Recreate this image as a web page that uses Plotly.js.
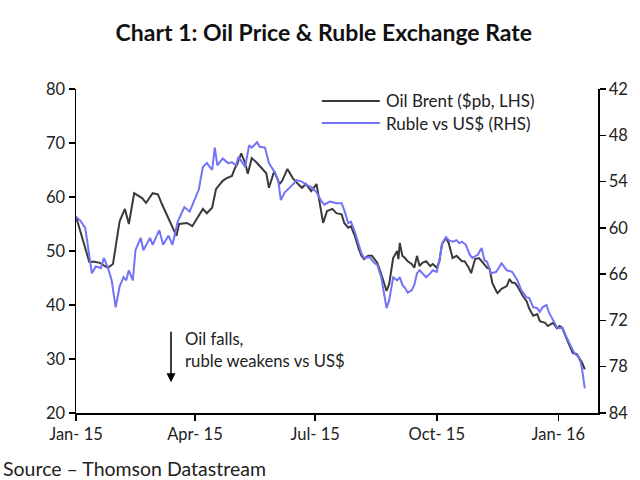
<!DOCTYPE html>
<html>
<head>
<meta charset="utf-8">
<script src="https://cdn.plot.ly/plotly-3.0.1.min.js"></script>
<style>html,body{margin:0;padding:0;background:#fff;}#chart{width:640px;height:480px;}</style>
</head>
<body>
<div id="chart"></div>
<script>
const oilDates = ["2015-01-01","2015-01-04","2015-01-08","2015-01-11","2015-01-15","2015-01-19","2015-01-25","2015-01-29","2015-02-03","2015-02-07","2015-02-10","2015-02-14","2015-02-20","2015-02-23","2015-02-28","2015-03-04","2015-03-07","2015-03-11","2015-03-14","2015-03-18","2015-03-20","2015-03-26","2015-03-30","2015-04-04","2015-04-07","2015-04-10","2015-04-14","2015-04-17","2015-04-20","2015-04-22","2015-04-25","2015-04-29","2015-05-01","2015-05-03","2015-05-06","2015-05-09","2015-05-11","2015-05-14","2015-05-18","2015-05-21","2015-05-25","2015-05-27","2015-05-31","2015-06-04","2015-06-06","2015-06-10","2015-06-14","2015-06-18","2015-06-21","2015-06-24","2015-06-28","2015-07-02","2015-07-04","2015-07-07","2015-07-10","2015-07-14","2015-07-17","2015-07-21","2015-07-23","2015-07-26","2015-07-28","2015-07-31","2015-08-03","2015-08-05","2015-08-07","2015-08-10","2015-08-13","2015-08-15","2015-08-17","2015-08-20","2015-08-22","2015-08-24","2015-08-26","2015-08-29","2015-09-01","2015-09-02","2015-09-03","2015-09-05","2015-09-07","2015-09-09","2015-09-12","2015-09-14","2015-09-16","2015-09-18","2015-09-20","2015-09-23","2015-09-26","2015-09-28","2015-10-01","2015-10-03","2015-10-05","2015-10-08","2015-10-10","2015-10-13","2015-10-16","2015-10-20","2015-10-22","2015-10-25","2015-10-27","2015-10-30","2015-11-02","2015-11-04","2015-11-08","2015-11-10","2015-11-12","2015-11-15","2015-11-16","2015-11-19","2015-11-23","2015-11-25","2015-11-27","2015-11-29","2015-12-01","2015-12-05","2015-12-08","2015-12-10","2015-12-13","2015-12-16","2015-12-18","2015-12-22","2015-12-24","2015-12-28","2015-12-31","2016-01-02","2016-01-04","2016-01-07","2016-01-09","2016-01-12","2016-01-15","2016-01-17","2016-01-19","2016-01-21"];
const oilBrent = [56.4,54.0,50.5,48.0,48.0,47.8,46.9,47.6,55.5,57.8,55.0,60.7,59.8,58.9,60.7,60.5,58.7,56.5,55.0,52.8,55.0,55.2,54.6,56.5,57.8,57.0,58.0,61.5,62.4,63.0,63.5,63.9,65.2,66.1,68.1,66.3,64.3,67.2,66.3,65.4,64.4,61.7,64.8,62.4,63.0,65.2,63.5,62.4,61.7,62.4,61.1,62.4,59.8,55.2,57.4,57.8,57.0,56.8,55.2,54.3,54.6,52.8,50.4,49.1,48.5,49.1,49.1,48.5,47.8,45.7,43.9,42.6,43.9,48.7,50.0,48.5,51.5,49.1,48.7,48.1,47.6,46.9,49.1,47.2,47.8,48.1,47.2,47.6,46.9,48.1,51.3,52.4,51.5,48.7,49.1,48.1,48.1,47.0,45.9,48.5,48.7,48.1,46.9,46.7,44.1,42.6,42.2,43.0,43.5,44.8,44.1,44.1,43.5,41.7,40.7,39.3,38.0,38.3,37.0,36.7,36.1,36.7,35.7,36.1,35.7,33.9,32.8,31.1,30.9,30.0,29.3,28.1];

const rubDates = ["2015-01-01","2015-01-04","2015-01-08","2015-01-09","2015-01-11","2015-01-13","2015-01-16","2015-01-20","2015-01-22","2015-01-25","2015-01-28","2015-01-31","2015-02-03","2015-02-06","2015-02-08","2015-02-10","2015-02-13","2015-02-15","2015-02-19","2015-02-21","2015-02-26","2015-02-28","2015-03-05","2015-03-08","2015-03-12","2015-03-15","2015-03-19","2015-03-24","2015-03-28","2015-03-31","2015-04-04","2015-04-07","2015-04-10","2015-04-14","2015-04-16","2015-04-18","2015-04-22","2015-04-26","2015-04-29","2015-05-02","2015-05-04","2015-05-09","2015-05-12","2015-05-14","2015-05-18","2015-05-20","2015-05-24","2015-05-27","2015-05-31","2015-06-03","2015-06-05","2015-06-08","2015-06-10","2015-06-14","2015-06-17","2015-06-21","2015-06-24","2015-06-28","2015-07-02","2015-07-06","2015-07-08","2015-07-12","2015-07-17","2015-07-21","2015-07-23","2015-07-26","2015-07-28","2015-07-31","2015-08-03","2015-08-05","2015-08-07","2015-08-11","2015-08-15","2015-08-17","2015-08-20","2015-08-22","2015-08-24","2015-08-26","2015-08-29","2015-09-01","2015-09-03","2015-09-05","2015-09-07","2015-09-09","2015-09-12","2015-09-14","2015-09-16","2015-09-18","2015-09-20","2015-09-23","2015-09-26","2015-09-28","2015-10-01","2015-10-03","2015-10-05","2015-10-08","2015-10-10","2015-10-13","2015-10-16","2015-10-18","2015-10-20","2015-10-23","2015-10-26","2015-10-28","2015-11-01","2015-11-04","2015-11-06","2015-11-08","2015-11-11","2015-11-15","2015-11-19","2015-11-21","2015-11-23","2015-11-27","2015-12-01","2015-12-04","2015-12-08","2015-12-10","2015-12-13","2015-12-16","2015-12-18","2015-12-20","2015-12-23","2015-12-25","2015-12-28","2015-12-31","2016-01-02","2016-01-04","2016-01-07","2016-01-11","2016-01-13","2016-01-16","2016-01-18","2016-01-19","2016-01-21"];
const rubUsd = [58.6,59.0,60.0,61.2,63.3,65.9,65.0,65.2,63.9,65.1,66.8,70.3,67.6,66.4,66.8,65.5,66.8,62.9,61.3,62.9,61.3,62.2,60.3,62.2,61.0,62.2,59.2,57.3,57.9,56.7,55.0,52.1,51.6,52.5,49.6,51.9,51.0,51.6,51.5,51.9,50.8,52.1,49.3,49.6,48.9,49.5,49.6,51.6,52.7,53.8,56.4,55.4,55.1,54.4,53.8,54.0,54.4,54.7,55.4,56.6,57.0,56.6,56.8,56.8,57.7,59.4,59.2,60.5,62.2,63.3,63.9,63.8,64.6,64.8,66.4,68.4,70.4,69.4,66.4,66.8,66.4,67.4,67.8,68.4,68.1,67.4,65.9,65.5,65.9,66.4,65.9,65.5,65.7,64.2,62.0,61.2,61.6,61.8,61.6,62.0,61.8,62.2,63.5,63.9,63.5,62.6,64.2,64.4,65.9,65.7,64.6,65.1,65.5,65.7,66.8,68.1,69.0,69.1,70.3,70.4,70.9,70.3,70.0,71.0,71.9,72.9,73.0,72.9,74.1,75.6,76.2,76.7,77.5,78.4,80.8];

const oilTicks = [20,30,40,50,60,70,80];
const rubTicks = [42,48,54,60,66,72,78,84];
const seriesNames = ["Oil Brent ($pb, LHS)", "Ruble vs US$ (RHS)"];
const seriesColors = ["#3a3a3a", "#7373f7"];

const FONT = "Lato, 'Open Sans', sans-serif";

const traces = [
  {x: oilDates, y: oilBrent, name: seriesNames[0], type: "scatter", mode: "lines",
   line: {color: seriesColors[0], width: 2}, yaxis: "y", showlegend: false},
  {x: rubDates, y: rubUsd, name: seriesNames[1], type: "scatter", mode: "lines",
   line: {color: seriesColors[1], width: 2}, yaxis: "y2", showlegend: false}
];

// manual legend (longer key lines like the reference)
const legY = [0.963, 0.895];
const legendShapes = seriesNames.map((n, i) => ({
  type: "line", xref: "paper", yref: "paper", x0: 0.471, x1: 0.582, y0: legY[i], y1: legY[i],
  line: {color: seriesColors[i], width: 2}
}));
const legendTexts = seriesNames.map((n, i) => ({
  xref: "paper", yref: "paper", x: 0.590, y: legY[i], xanchor: "left", yanchor: "middle",
  text: n, showarrow: false, font: {family: FONT, size: 17, color: "#222"}
}));

const tickFont = {family: FONT, size: 16.5, color: "#222"};

const layout = {
  width: 640, height: 480,
  margin: {l: 76, r: 42, t: 89, b: 67},
  paper_bgcolor: "#fff", plot_bgcolor: "#fff",
  font: {family: FONT, size: 15, color: "#222"},
  title: {text: "<b>Chart 1: Oil Price & Ruble Exchange Rate</b>", x: 0.506, xanchor: "center", y: 0.932, yanchor: "middle",
          font: {family: FONT, size: 23, color: "#111"}},
  showlegend: false,
  xaxis: {type: "date", range: ["2015-01-01", "2016-01-31"], tick0: "2015-01-01", dtick: "M3",
          tickformat: "%b- %y", showgrid: false, zeroline: false, showline: true, linecolor: "#000", linewidth: 1.5,
          ticks: "outside", ticklen: 6, tickwidth: 1.5, tickcolor: "#000", tickfont: tickFont},
  yaxis: {range: [20, 80], tickvals: oilTicks, showgrid: false, zeroline: false, showline: true,
          linecolor: "#000", linewidth: 1.5, ticks: "outside", ticklen: 6, tickwidth: 1.5, tickcolor: "#000",
          tickfont: tickFont},
  yaxis2: {range: [84, 42], tickvals: rubTicks, overlaying: "y", side: "right", showgrid: false, zeroline: false,
           showline: true, linecolor: "#000", linewidth: 1.5, ticks: "outside", ticklen: 6, tickwidth: 1.5, tickcolor: "#000",
           tickfont: tickFont},
  shapes: legendShapes,
  annotations: [
    ...legendTexts,
    {xref: "paper", yref: "paper", x: 0.182, y: 0.095, ax: 0, ay: -52, axref: "pixel", ayref: "pixel",
     text: "", showarrow: true, arrowhead: 2, arrowsize: 1.2, arrowwidth: 1.5, arrowcolor: "#000"},
    {xref: "paper", yref: "paper", x: 0.205, y: 0.265, xanchor: "left", yanchor: "top", align: "left",
     text: "Oil falls,<br>ruble weakens vs US$", showarrow: false,
     font: {family: FONT, size: 16.7, color: "#222"}},
    {xref: "paper", yref: "paper", x: -0.143, y: -0.172, xanchor: "left", yanchor: "middle", align: "left",
     text: "Source – Thomson Datastream", showarrow: false,
     font: {family: FONT, size: 19.5, color: "#222"}}
  ]
};

Plotly.newPlot("chart", traces, layout, {staticPlot: true, displayModeBar: false});
</script>
</body>
</html>
